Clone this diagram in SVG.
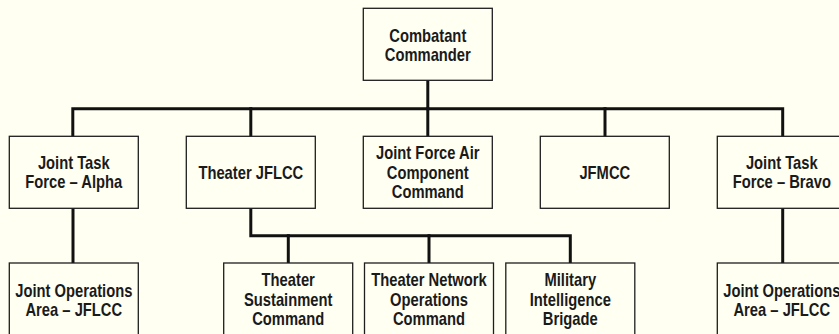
<svg xmlns="http://www.w3.org/2000/svg" width="839" height="334" viewBox="0 0 839 334">
  <style>
    .box { fill: #fffff2; stroke: #1e1e1e; stroke-width: 1.3; }
    .lbl { font-family: "Liberation Sans", Arial, sans-serif; font-size: 18px; font-weight: bold; fill: #1a1a1a; text-anchor: middle; }
    .wire { fill: none; stroke: #111; stroke-width: 3; stroke-linejoin: miter; stroke-linecap: square; }
  </style>
  <rect width="839" height="334" fill="#fffff2"/>

  <!-- connectors -->
  <g id="connectors">
    <path class="wire" d="M427.8 80.5 V108.7"/>
    <path class="wire" d="M72.8 136 V108.7 H782.7 V136"/>
    <path class="wire" d="M250.8 108.7 V136"/>
    <path class="wire" d="M427.8 108.7 V136"/>
    <path class="wire" d="M605 108.7 V136"/>
    <path class="wire" d="M73 208.5 V263"/>
    <path class="wire" d="M782.7 208.5 V263"/>
    <path class="wire" d="M250.8 208.5 V235.7 H570.3 V263"/>
    <path class="wire" d="M288.3 235.7 V263"/>
    <path class="wire" d="M429 235.7 V263"/>
  </g>

  <!-- labels are set in a condensed cut: each line is narrowed about its centre -->

  <!-- top level -->
  <g id="combatant-commander">
    <rect class="box" x="363.3" y="8.3" width="129" height="72"/>
    <text class="lbl" transform="translate(427.8 0) scale(0.82 1)" y="41.7">Combatant</text>
    <text class="lbl" transform="translate(427.8 0) scale(0.82 1)" y="61.5">Commander</text>
  </g>

  <!-- second level -->
  <g id="jtf-alpha">
    <rect class="box" x="9.3" y="136.3" width="129" height="72"/>
    <text class="lbl" transform="translate(73.8 0) scale(0.82 1)" y="168.6">Joint Task</text>
    <text class="lbl" transform="translate(73.8 0) scale(0.82 1)" y="188.4">Force – Alpha</text>
  </g>
  <g id="theater-jflcc">
    <rect class="box" x="186.3" y="136.3" width="129" height="72"/>
    <text class="lbl" transform="translate(250.8 0) scale(0.82 1)" y="178.6">Theater JFLCC</text>
  </g>
  <g id="jfacc">
    <rect class="box" x="363.3" y="136.3" width="129" height="72"/>
    <text class="lbl" transform="translate(427.8 0) scale(0.82 1)" y="159.2">Joint Force Air</text>
    <text class="lbl" transform="translate(427.8 0) scale(0.82 1)" y="178.8">Component</text>
    <text class="lbl" transform="translate(427.8 0) scale(0.82 1)" y="198.4">Command</text>
  </g>
  <g id="jfmcc">
    <rect class="box" x="540.3" y="136.3" width="129" height="72"/>
    <text class="lbl" transform="translate(604.8 0) scale(0.82 1)" y="178.6">JFMCC</text>
  </g>
  <g id="jtf-bravo">
    <rect class="box" x="717.3" y="136.3" width="129" height="72"/>
    <text class="lbl" transform="translate(781.8 0) scale(0.82 1)" y="168.6">Joint Task</text>
    <text class="lbl" transform="translate(781.8 0) scale(0.82 1)" y="188.4">Force – Bravo</text>
  </g>

  <!-- third level -->
  <g id="joa-alpha">
    <rect class="box" x="9.3" y="263" width="129" height="80"/>
    <text class="lbl" transform="translate(73.8 0) scale(0.82 1)" y="296.7">Joint Operations</text>
    <text class="lbl" transform="translate(73.8 0) scale(0.82 1)" y="316.3">Area – JFLCC</text>
  </g>
  <g id="theater-sustainment">
    <rect class="box" x="223.7" y="263" width="129" height="80"/>
    <text class="lbl" transform="translate(288.2 0) scale(0.82 1)" y="286.2">Theater</text>
    <text class="lbl" transform="translate(288.2 0) scale(0.82 1)" y="305.9">Sustainment</text>
    <text class="lbl" transform="translate(288.2 0) scale(0.82 1)" y="325.5">Command</text>
  </g>
  <g id="theater-network">
    <rect class="box" x="364.5" y="263" width="129" height="80"/>
    <text class="lbl" transform="translate(429 0) scale(0.82 1)" y="286.2">Theater Network</text>
    <text class="lbl" transform="translate(429 0) scale(0.82 1)" y="305.9">Operations</text>
    <text class="lbl" transform="translate(429 0) scale(0.82 1)" y="325.5">Command</text>
  </g>
  <g id="mi-brigade">
    <rect class="box" x="505.8" y="263" width="129" height="80"/>
    <text class="lbl" transform="translate(570.3 0) scale(0.82 1)" y="286.2">Military</text>
    <text class="lbl" transform="translate(570.3 0) scale(0.82 1)" y="305.9">Intelligence</text>
    <text class="lbl" transform="translate(570.3 0) scale(0.82 1)" y="325.5">Brigade</text>
  </g>
  <g id="joa-bravo">
    <rect class="box" x="717.3" y="263" width="129" height="80"/>
    <text class="lbl" transform="translate(781.8 0) scale(0.82 1)" y="296.7">Joint Operations</text>
    <text class="lbl" transform="translate(781.8 0) scale(0.82 1)" y="316.3">Area – JFLCC</text>
  </g>
</svg>
